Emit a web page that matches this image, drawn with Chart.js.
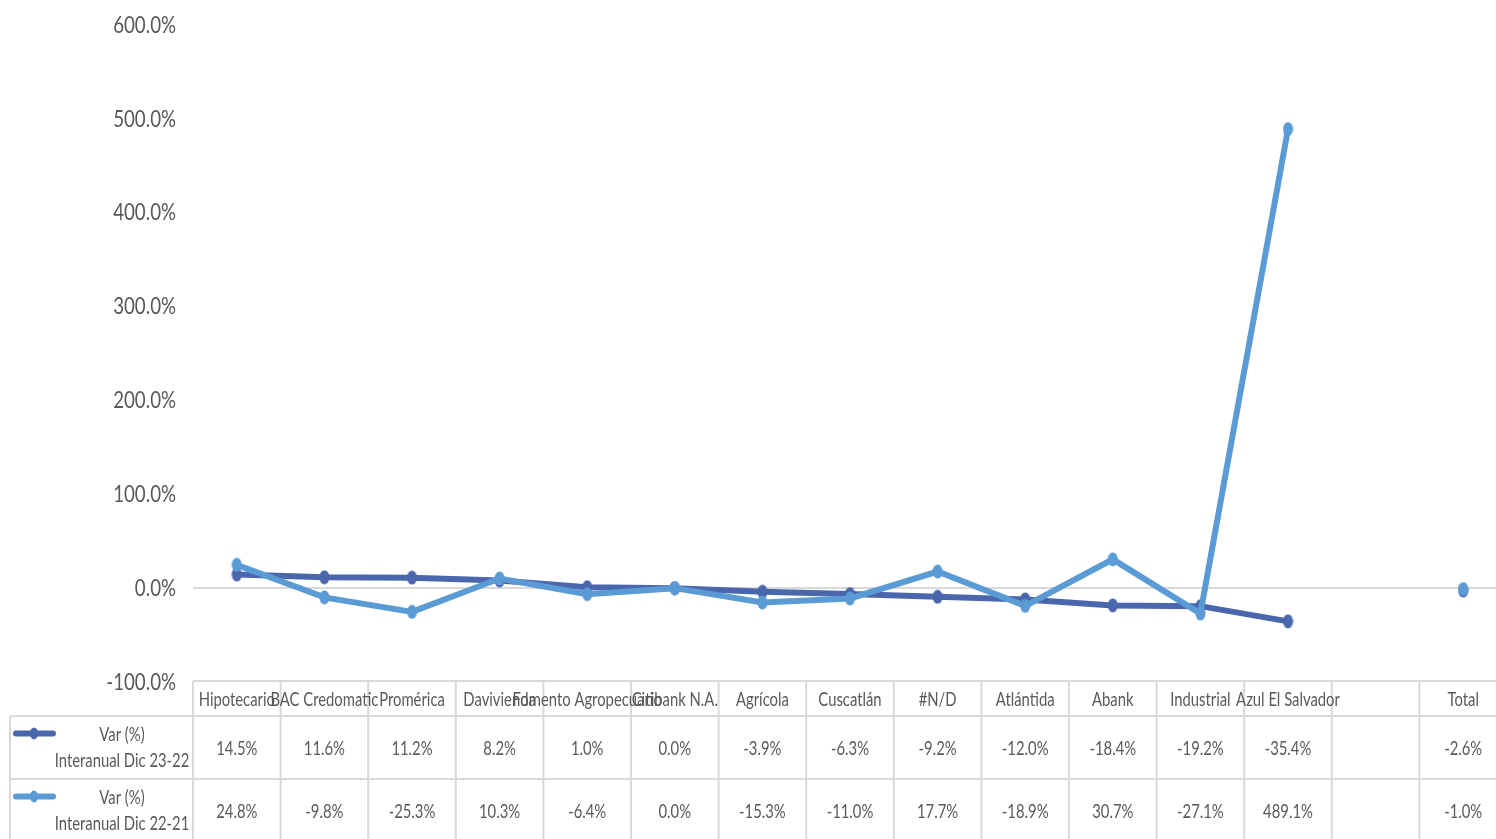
<!DOCTYPE html>
<html>
<head>
<meta charset="utf-8">
<script src="https://cdn.jsdelivr.net/npm/chart.js@4/dist/chart.umd.min.js"></script>
<style>
  html, body { margin: 0; padding: 0; background: #fff; overflow: hidden; }
  #wrap { position: relative; width: 1507px; height: 839px; }
</style>
</head>
<body>
<div id="wrap"><canvas id="chart1"></canvas></div>
<script>
// Datos: variación interanual por banco
const categorias = ['Hipotecario', 'BAC Credomatic', 'Promérica', 'Davivienda', 'Fomento Agropecuario',
  'Citibank N.A.', 'Agrícola', 'Cuscatlán', '#N/D', 'Atlántida', 'Abank', 'Industrial',
  'Azul El Salvador', '', 'Total'];
const var2322 = [14.5, 11.6, 11.2, 8.2, 1.0, 0.0, -3.9, -6.3, -9.2, -12.0, -18.4, -19.2, -35.4, null, -2.6];
const var2221 = [24.8, -9.8, -25.3, 10.3, -6.4, 0.0, -15.3, -11.0, 17.7, -18.9, 30.7, -27.1, 489.1, null, -1.0];
const serieNombres = [['Var (%)', 'Interanual Dic 23-22'], ['Var (%)', 'Interanual Dic 22-21']];
const yTicks = [-100, 0, 100, 200, 300, 400, 500, 600];

const colorOscuro = '#4A66AC';
const colorClaro = '#5B9BD5';
const gris = '#595959';
const lineaTabla = '#d9d9d9';
const fuente = 'Lato, "Open Sans", sans-serif';
const estrecho = 0.78; // el texto original es condensado

const fmt = v => (v === null ? '' : v.toFixed(1) + '%');

// texto condensado horizontalmente
function texto(ctx, t, x, y, align) {
  ctx.save();
  ctx.translate(x, y);
  ctx.scale(estrecho, 1);
  ctx.textAlign = align || 'center';
  ctx.fillText(t, 0, 0);
  ctx.restore();
}

// marcador elíptico como en Excel
function marcador(color) {
  const c = document.createElement('canvas');
  c.width = 11; c.height = 15;
  const g = c.getContext('2d');
  g.fillStyle = color;
  g.beginPath();
  g.ellipse(5.5, 7.5, 5, 7, 0, 0, Math.PI * 2);
  g.fill();
  return c;
}

// Plugin: etiquetas del eje Y y tabla de datos (estilo Excel)
const tablaDatos = {
  id: 'tablaDatos',
  afterDraw(chart) {
    const ctx = chart.ctx;
    const x = chart.scales.x;
    const y = chart.scales.y;
    const area = chart.chartArea;
    const ancho = x.width / categorias.length;
    const top = area.bottom - 1;
    const filaCab = 35;
    const fila = 63;
    const izq = 10;
    const bottom = chart.height;
    const series = [var2322, var2221];
    const colores = [colorOscuro, colorClaro];

    ctx.save();
    ctx.fillStyle = gris;
    ctx.textBaseline = 'middle';
    ctx.font = '24px ' + fuente;
    y.ticks.forEach(t => texto(ctx, fmt(t.value), area.left - 17, y.getPixelForValue(t.value), 'right'));

    ctx.strokeStyle = lineaTabla;
    ctx.lineWidth = 2;
    ctx.beginPath();
    ctx.moveTo(area.left, top); ctx.lineTo(area.right, top);
    ctx.moveTo(izq, top + filaCab); ctx.lineTo(area.right, top + filaCab);
    ctx.moveTo(izq, top + filaCab + fila); ctx.lineTo(area.right, top + filaCab + fila);
    ctx.moveTo(izq, top + filaCab); ctx.lineTo(izq, bottom);
    for (let i = 0; i <= categorias.length; i++) {
      const xx = area.left + i * ancho;
      ctx.moveTo(xx, top); ctx.lineTo(xx, bottom);
    }
    ctx.stroke();

    ctx.font = '19px ' + fuente;
    categorias.forEach((c, i) => texto(ctx, c, x.getPixelForValue(i), top + filaCab / 2 + 1));
    series.forEach((s, k) => {
      const cy = top + filaCab + fila * k + fila / 2;
      s.forEach((v, i) => texto(ctx, fmt(v), x.getPixelForValue(i), cy + 1));
      // leyenda
      const lx = 122;
      texto(ctx, serieNombres[k][0], lx, cy - 13);
      texto(ctx, serieNombres[k][1], lx, cy + 13);
      ctx.strokeStyle = colores[k];
      ctx.lineWidth = 6;
      ctx.lineCap = 'round';
      ctx.beginPath();
      ctx.moveTo(16, cy - 14); ctx.lineTo(53, cy - 14);
      ctx.stroke();
      ctx.fillStyle = colores[k];
      ctx.beginPath();
      ctx.ellipse(34, cy - 14, 4, 6, 0, 0, Math.PI * 2);
      ctx.fill();
      ctx.fillStyle = gris;
    });
    ctx.restore();
  }
};

const ctx1 = document.getElementById('chart1').getContext('2d');
const chart1 = new Chart(ctx1, {
  type: 'line',
  data: {
    labels: categorias,
    datasets: [{
      label: serieNombres[0].join(' '),
      data: var2322,
      borderColor: colorOscuro,
      backgroundColor: colorOscuro,
      borderWidth: 6,
      pointStyle: marcador(colorOscuro),
      order: 1
    }, {
      label: serieNombres[1].join(' '),
      data: var2221,
      borderColor: colorClaro,
      backgroundColor: colorClaro,
      borderWidth: 6,
      pointStyle: marcador(colorClaro),
      order: 0
    }]
  },
  options: {
    responsive: true,
    maintainAspectRatio: false,
    animation: false,
    spanGaps: false,
    layout: { autoPadding: false, padding: { top: 25, bottom: 157, left: 0, right: 0 } },
    plugins: { legend: { display: false }, tooltip: { enabled: false } },
    scales: {
      x: { type: 'category', offset: true, display: false },
      y: {
        min: -100,
        max: 600,
        afterBuildTicks: s => { s.ticks = yTicks.map(v => ({ value: v })); },
        afterFit: s => { s.width = 193; },
        border: { display: false },
        grid: {
          drawTicks: false,
          lineWidth: 2,
          color: c => (c.tick && c.tick.value === 0 ? lineaTabla : 'rgba(0,0,0,0)')
        },
        ticks: { display: false }
      }
    }
  },
  plugins: [tablaDatos]
});
</script>
</body>
</html>
